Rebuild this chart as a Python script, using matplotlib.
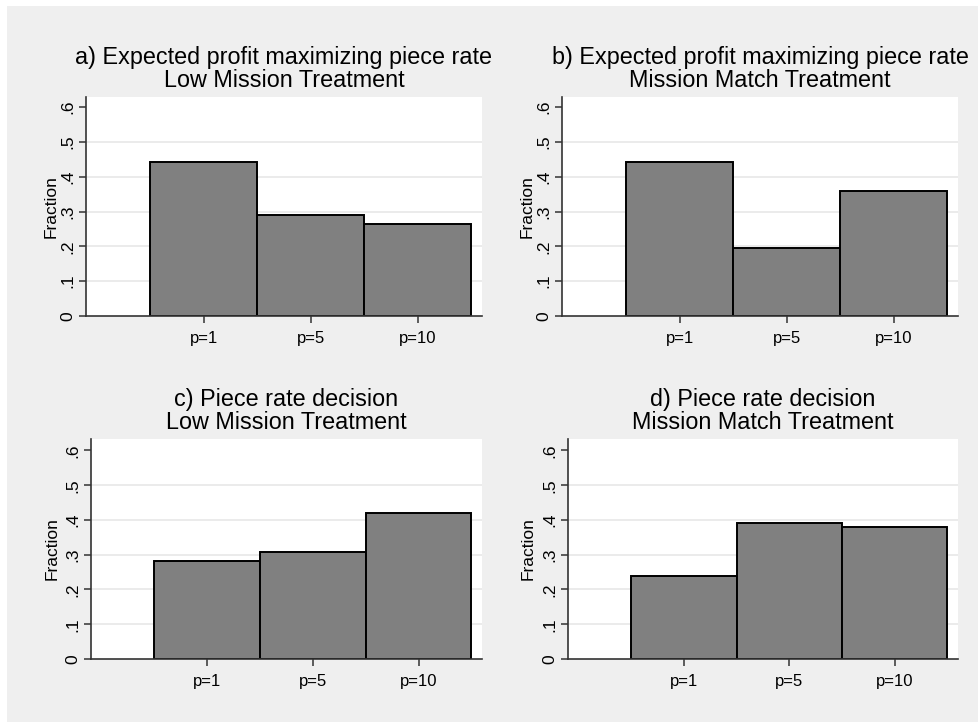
import numpy as np
import matplotlib
matplotlib.use("Agg")
import matplotlib.pyplot as plt
from matplotlib.patches import Rectangle

plt.rcParams["font.family"] = ["Liberation Sans", "DejaVu Sans"]

# data
categories = ["p=1", "p=5", "p=10"]
frac_a = [0.442, 0.290, 0.263]   # expected profit max, low mission
frac_b = [0.442, 0.195, 0.359]   # expected profit max, mission match
frac_c = [0.281, 0.308, 0.419]   # piece rate decision, low mission
frac_d = [0.239, 0.392, 0.379]   # piece rate decision, mission match
yticks = [0, 0.1, 0.2, 0.3, 0.4, 0.5, 0.6]
ytick_labels = ["0", ".1", ".2", ".3", ".4", ".5", ".6"]

W, H = 979, 722
fig = plt.figure(figsize=(W / 100, H / 100), dpi=100)
fig.patch.set_facecolor("white")
# gray graph region
fig.patches.append(Rectangle((7 / W, 0), 1, 1 - 6 / H, transform=fig.transFigure,
                             facecolor="#efefef", edgecolor="none", zorder=-10))


def px_axes(left, top, right, bottom):
    return fig.add_axes([left / W, 1 - bottom / H, (right - left) / W, (bottom - top) / H])


def Plot(ax, vals, title, ytop, lab_x):
    x = np.arange(1, len(categories) + 1)
    ax.set_facecolor("white")
    for g in yticks[1:-1]:
        ax.axhline(g, color="#e8e8e8", lw=1.2, zorder=0)
    ax.bar(x, vals, width=1.0, color="#808080", edgecolor="black", linewidth=1.4, zorder=2)
    ax.set_xlim(-0.1, 3.6)
    ax.set_ylim(0, ytop)
    ax.set_xticks(x)
    ax.set_xticklabels(categories, fontsize=12)
    ax.set_yticks(yticks)
    ax.set_yticklabels(ytick_labels, fontsize=12.5, rotation=90, va="center")
    for s in ["top", "right"]:
        ax.spines[s].set_visible(False)
    for s in ["left", "bottom"]:
        ax.spines[s].set_color("#333333")
        ax.spines[s].set_linewidth(1.2)
    ax.tick_params(axis="y", length=5, width=1.1, color="#333333", pad=3)
    ax.tick_params(axis="x", length=5, width=1.1, color="#333333", pad=6)
    ax.text(lab_x, 0.5, "Fraction", rotation=90, transform=ax.transAxes,
            ha="center", va="center", fontsize=12.5)
    ax.set_title(title, fontsize=16.8, linespacing=1.02, pad=7)


ax_a = px_axes(86, 97, 482, 316)
Plot(ax_a, frac_a, "a) Expected profit maximizing piece rate\nLow Mission Treatment", 0.629, -0.087)
ax_b = px_axes(562, 97, 958, 316)
Plot(ax_b, frac_b, "b) Expected profit maximizing piece rate\nMission Match Treatment", 0.629, -0.087)
ax_c = px_axes(91, 439, 482, 659)
Plot(ax_c, frac_c, "c) Piece rate decision\nLow Mission Treatment", 0.633, -0.100)
ax_d = px_axes(568, 439, 958, 659)
Plot(ax_d, frac_d, "d) Piece rate decision\nMission Match Treatment", 0.633, -0.103)

fig.savefig("out.png", dpi=100)
